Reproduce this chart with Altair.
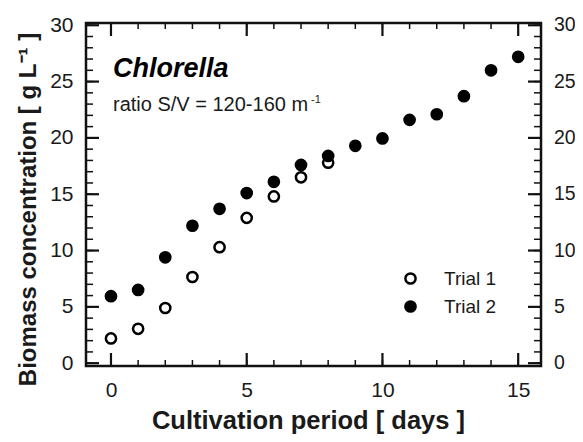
import altair as alt
import pandas as pd

# ---- data ----
days1 = [0, 1, 2, 3, 4, 5, 6, 7, 8]
trial1 = [2.2, 3.05, 4.9, 7.65, 10.3, 12.9, 14.8, 16.5, 17.8]
days2 = list(range(16))
trial2 = [5.95, 6.5, 9.4, 12.2, 13.7, 15.1, 16.1, 17.6, 18.4, 19.3, 19.95,
          21.6, 22.1, 23.7, 26.0, 27.2]
series = ["Trial 1", "Trial 2"]

x_minor = list(range(0, 16))
x_major = [0, 5, 10, 15]
y_minor = list(range(0, 31))
y_major = [0, 5, 10, 15, 20, 25, 30]

FONT = "Liberation Sans"
TXT = "#1a1a1a"
W, H = 455, 343

df = pd.DataFrame({
    "day": days1 + days2,
    "conc": trial1 + trial2,
    "trial": [series[0]] * len(days1) + [series[1]] * len(days2),
})

xs = alt.Scale(domain=[-0.92, 15.84], nice=False, zero=False)
ys = alt.Scale(domain=[-0.25, 30.2], nice=False, zero=False)

AX_X = alt.Axis(
    values=x_major, ticks=False, domain=False, grid=False,
    labelFontSize=21, labelFont=FONT, labelColor=TXT, labelPadding=13,
    title="Cultivation period [ days ]", titleFont=FONT, titleFontSize=25.5,
    titleFontWeight="bold", titleColor=TXT, titleX=222, titleY=62,
    titleBaseline="alphabetic")
AX_Y = alt.Axis(
    values=y_major, ticks=False, domain=False, grid=False,
    labelFontSize=21, labelFont=FONT, labelColor=TXT, labelPadding=13,
    title="Biomass concentration [ g L⁻¹ ]", titleFont=FONT, titleFontSize=24,
    titleFontWeight="bold", titleColor=TXT, titleX=-51, titleY=186,
    titleBaseline="alphabetic")

points = alt.Chart(df).mark_point(
    filled=True, size=104, strokeWidth=2.5, stroke="black", opacity=1
).encode(
    x=alt.X("day:Q", scale=xs, axis=AX_X),
    y=alt.Y("conc:Q", scale=ys, axis=AX_Y),
    fill=alt.Fill("trial:N", scale=alt.Scale(domain=series, range=["white", "black"]),
                  legend=alt.Legend(
                      title=None, orient="none", legendX=315, legendY=246, padding=0,
                      symbolType="circle", symbolSize=104, symbolStrokeWidth=2.5,
                      symbolStrokeColor="black", labelFontSize=19, labelFont=FONT,
                      labelColor=TXT, labelOffset=24, rowPadding=7)),
)


def tick_layer(vals, side, length, sw):
    d = pd.DataFrame({"v": vals})
    base = alt.Chart(d).mark_rule(color="#111", strokeWidth=sw)
    if side in ("left", "right"):
        x0 = 0 if side == "left" else W
        x1 = length if side == "left" else W - length
        return base.encode(y=alt.Y("v:Q", scale=ys, axis=AX_Y),
                           x=alt.value(x0), x2=alt.value(x1))
    y0 = H if side == "bottom" else 0
    y1 = H - length if side == "bottom" else length
    return base.encode(x=alt.X("v:Q", scale=xs, axis=AX_X),
                       y=alt.value(y0), y2=alt.value(y1))


ticks = []
for side in ("left", "right"):
    ticks.append(tick_layer(y_minor, side, 7, 1.5))
    ticks.append(tick_layer(y_major, side, 13, 2.2))
for side in ("bottom", "top"):
    ticks.append(tick_layer(x_minor, side, 6, 1.5))
    ticks.append(tick_layer(x_major, side, 13, 2.2))

right_labels = alt.Chart(pd.DataFrame({"v": y_major})).mark_text(
    align="left", baseline="middle", font=FONT, fontSize=19.5, color=TXT
).encode(y=alt.Y("v:Q", scale=ys, axis=AX_Y), x=alt.value(W + 13), text="v:Q")

title_txt = alt.Chart(pd.DataFrame({"t": ["Chlorella"]})).mark_text(
    align="left", baseline="alphabetic", font=FONT, fontSize=27,
    fontWeight="bold", fontStyle="italic", color="black"
).encode(x=alt.value(27), y=alt.value(54), text="t:N")

ratio_txt = alt.Chart(pd.DataFrame({"t": ["ratio S/V = 120-160 m"]})).mark_text(
    align="left", baseline="alphabetic", font=FONT, fontSize=20, color=TXT
).encode(x=alt.value(27), y=alt.value(88), text="t:N")

sup_txt = alt.Chart(pd.DataFrame({"t": ["-1"]})).mark_text(
    align="left", baseline="alphabetic", font=FONT, fontSize=11, color=TXT
).encode(x=alt.value(225), y=alt.value(80), text="t:N")

chart = alt.layer(points, *ticks, right_labels, title_txt, ratio_txt, sup_txt).properties(
    width=W, height=H, autosize="none",
    padding={"left": 78, "top": 15, "right": 34, "bottom": 68},
).configure_view(stroke="#111", strokeWidth=2.5)

chart.save("out.html", embed_options={"renderer": "svg", "actions": False})
